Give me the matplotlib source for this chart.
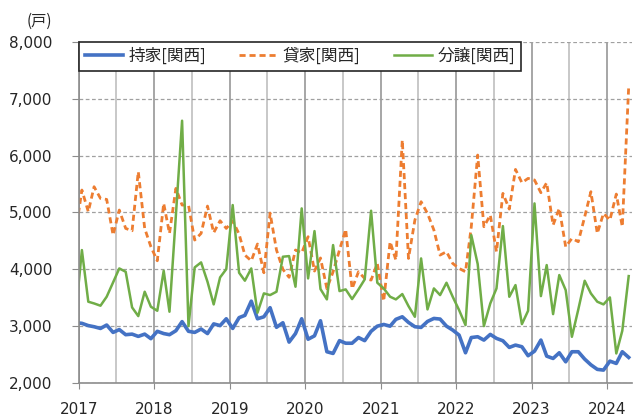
import numpy as np
import pandas as pd
import matplotlib
matplotlib.use('Agg')
import matplotlib.pyplot as plt
import matplotlib.dates as mdates
from matplotlib.ticker import FuncFormatter

# monthly housing starts (Kansai), Dec 2016 .. Apr 2024
# (Dec 2016 point only sits outside the left edge, line is clipped)
months = pd.date_range('2016-12-01', periods=89, freq='MS') + pd.Timedelta(days=14)

own = [3060,
       3050, 3010, 2990, 2960, 3020, 2890, 2940, 2850, 2860, 2820, 2860, 2780,
       2910, 2870, 2850, 2920, 3080, 2910, 2890, 2950, 2870, 3040, 3010, 3130,
       2960, 3150, 3190, 3440, 3130, 3165, 3325, 2980, 3060, 2720, 2870, 3130,
       2770, 2830, 3095, 2550, 2520, 2745, 2700, 2700, 2800, 2745, 2910, 3000,
       3030, 3000, 3120, 3165, 3066, 2990, 2978, 3083, 3136, 3125, 3000, 2931,
       2843, 2532, 2800, 2814, 2755, 2855, 2785, 2743, 2626, 2667, 2638, 2480,
       2560, 2755, 2473, 2432, 2532, 2373, 2550, 2550, 2420, 2320, 2240, 2227,
       2385, 2344, 2550, 2450]

rent = [4630,
        5395, 5014, 5454, 5248, 5230, 4603, 5043, 4720, 4679, 5718, 4720, 4398,
        4151, 5160, 4632, 5424, 5131, 5131, 4515, 4632, 5113, 4644, 4855, 4720,
        4855, 4620, 4251, 4150, 4445, 3940, 4990, 4340, 4000, 3860, 4340, 4290,
        4574, 3970, 4200, 3660, 3957, 4339, 4703, 3660, 3957, 3840, 3811, 4104,
        3440, 4486, 4163, 6275, 4192, 4867, 5190, 4984, 4691, 4251, 4310, 4104,
        4016, 3957, 4750, 6011, 4750, 4955, 4310, 5336, 5060, 5758, 5524, 5600,
        5571, 5348, 5524, 4779, 5072, 4397, 4544, 4486, 4925, 5366, 4632, 4984,
        4867, 5324, 4750, 7214]

sale = [3165,
        4339, 3430, 3400, 3360, 3518, 3770, 4016, 3957, 3330, 3177, 3606, 3342,
        3271, 3975, 3254, 4950, 6615, 3001, 4034, 4122, 3782, 3383, 3858, 4004,
        5131, 3940, 3800, 4016, 3236, 3577, 3547, 3606, 4222, 4233, 3694, 5072,
        3840, 4673, 3653, 3471, 4427, 3617, 3647, 3477, 3647, 3823, 5031, 3764,
        3664, 3518, 3471, 3565, 3353, 3165, 4192, 3295, 3664, 3547, 3764, 3518,
        3283, 3019, 4603, 4093, 3001, 3400, 3664, 4761, 3517, 3723, 3036, 3271,
        5160, 3529, 4075, 3212, 3899, 3635, 2813, 3294, 3799, 3576, 3430, 3383,
        3506, 2520, 2919, 3881]

labels = ['持家[関西]', '貸家[関西]', '分譲[関西]']
unit = '(戸)'

cjk = ['Noto Sans CJK JP', 'DejaVu Sans']
plt.rcParams['font.family'] = ['DejaVu Sans', 'Noto Sans CJK JP']

fig = plt.figure(figsize=(6.33, 4.17), dpi=100)
ax = fig.add_axes([79/633, 1-383/417, 553/633, 341/417])

ax.plot(months, own, color='#4472C4', lw=2.6, solid_joinstyle='round', label=labels[0])
ax.plot(months, rent, color='#ED7D31', lw=2.0, dashes=(2.2, 1.4), label=labels[1])
ax.plot(months, sale, color='#70AD47', lw=1.8, label=labels[2])

ax.set_xlim(pd.Timestamp('2017-01-01'), pd.Timestamp('2024-05-01'))
ax.set_ylim(2000, 8000)
ax.set_yticks(np.arange(2000, 8001, 1000))
ax.yaxis.set_major_formatter(FuncFormatter(lambda v, p: '{:,}'.format(int(v))))
ax.xaxis.set_major_locator(mdates.YearLocator())
ax.xaxis.set_major_formatter(mdates.DateFormatter('%Y'))
ax.xaxis.set_minor_locator(mdates.MonthLocator(bymonth=7))

ax.grid(axis='x', which='major', color='#a6a6a6', lw=1.4)
ax.grid(axis='x', which='minor', color='#c8c8c8', lw=1.4)
ax.grid(axis='y', which='major', color='#a0a0a0', lw=0.9, linestyle=(0, (3, 2)))
ax.set_axisbelow(True)

for s in ['top', 'right']:
  ax.spines[s].set_visible(False)
for s in ['left', 'bottom']:
  ax.spines[s].set_color('#8c8c8c')
  ax.spines[s].set_linewidth(1.2)

ax.tick_params(axis='x', which='major', length=4, color='#8c8c8c', pad=10,
               labelsize=11, labelcolor='#262626')
ax.tick_params(axis='x', which='minor', length=0)
ax.tick_params(axis='y', length=5, color='#8c8c8c', pad=14,
               labelsize=11, labelcolor='#262626')

leg = ax.legend(loc='upper left', bbox_to_anchor=(0, 1, 442/553, 0), mode='expand',
                ncol=3, borderaxespad=0, prop={'family': cjk, 'size': 12},
                handlelength=2.3, handletextpad=0.3, columnspacing=1.0,
                borderpad=0.35, fancybox=False, framealpha=1)
leg.get_frame().set_edgecolor('#262626')
leg.get_frame().set_linewidth(1.2)
for t in leg.get_texts():
  t.set_color('#262626')

fig.text(39/633, 1-21/417, unit, ha='center', va='center', fontsize=11,
         family=cjk, color='#262626')

fig.savefig('out.png', dpi=100)
